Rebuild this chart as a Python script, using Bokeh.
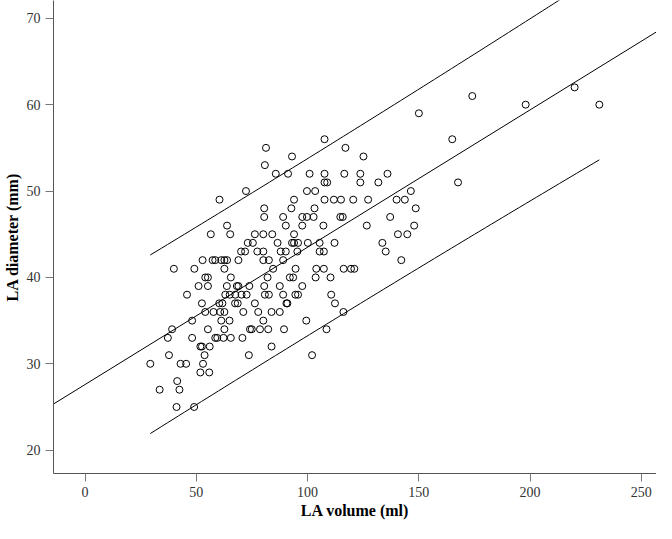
import numpy as np
from bokeh.plotting import figure
from bokeh.models import Range1d, FixedTicker
from bokeh.embed import file_html
from bokeh.resources import INLINE

# LA volume (ml) and LA diameter (mm), one entry per patient
volume_ml = [
    107.6, 165.0,
    81.3, 117.0,
    93.0, 125.1,
    80.8,
    85.7, 91.2, 100.9, 107.6, 116.5, 123.7, 135.9,
    107.6, 108.8, 123.7, 131.8, 167.6,
    72.3, 99.7, 103.4, 146.4,
    60.4, 93.9, 107.6, 111.8, 115.0, 120.5, 127.2, 140.0, 143.7,
    80.5, 92.7, 103.1, 148.6,
    80.5, 89.0, 97.6, 99.7, 102.7, 114.7, 115.8, 137.1,
    63.8, 90.2, 97.6, 107.1, 126.6, 147.9,
    56.5, 65.2, 76.3, 80.1, 84.1, 93.9, 140.6, 144.8,
    73.1, 75.4, 86.5, 93.0, 93.9, 95.7, 100.1, 105.4, 112.1, 133.6,
    70.1, 71.9, 77.4, 80.1, 87.9, 90.2, 95.4, 105.4, 107.3, 135.1,
    52.8, 57.3, 58.5, 61.2, 62.6, 63.8, 68.9, 80.1, 82.6, 89.0, 142.1,
    39.9, 49.1, 62.6, 84.5, 94.6, 103.9, 107.3, 116.2, 119.5, 121.0,
    54.0, 55.2, 65.5, 82.0, 92.0, 93.5, 103.6, 110.3,
    51.0, 55.2, 63.7, 68.2, 68.9, 73.8, 80.5, 87.5, 97.6,
    45.8, 63.0, 65.0, 67.5, 70.3, 72.6, 80.8, 82.6, 89.0, 94.5, 95.7, 110.6,
    52.5, 60.3, 61.7, 67.4, 68.6, 76.3, 90.5, 90.9, 112.3,
    54.0, 57.7, 60.7, 62.6, 71.1, 77.8, 83.8, 87.5, 116.1,
    48.1, 61.2, 64.9, 80.1, 99.4,
    39.1, 55.2, 62.6, 74.1, 74.9, 78.6, 82.3, 89.4, 108.5,
    37.2, 48.1, 58.5, 59.4, 62.2, 65.5, 70.7,
    51.8, 52.5, 56.0, 83.8,
    37.7, 53.7, 73.6, 102.0,
    29.3, 42.9, 45.4, 53.0,
    51.8, 55.8,
    41.4,
    33.5, 42.4,
    41.1, 49.0,
    150.0, 174.0, 198.0, 220.0, 231.1,
]
diameter_mm = [
    56, 56,
    55, 55,
    54, 54,
    53,
    52, 52, 52, 52, 52, 52, 52,
    51, 51, 51, 51, 51,
    50, 50, 50, 50,
    49, 49, 49, 49, 49, 49, 49, 49, 49,
    48, 48, 48, 48,
    47, 47, 47, 47, 47, 47, 47, 47,
    46, 46, 46, 46, 46, 46,
    45, 45, 45, 45, 45, 45, 45, 45,
    44, 44, 44, 44, 44, 44, 44, 44, 44, 44,
    43, 43, 43, 43, 43, 43, 43, 43, 43, 43,
    42, 42, 42, 42, 42, 42, 42, 42, 42, 42, 42,
    41, 41, 41, 41, 41, 41, 41, 41, 41, 41,
    40, 40, 40, 40, 40, 40, 40, 40,
    39, 39, 39, 39, 39, 39, 39, 39, 39,
    38, 38, 38, 38, 38, 38, 38, 38, 38, 38, 38, 38,
    37, 37, 37, 37, 37, 37, 37, 37, 37,
    36, 36, 36, 36, 36, 36, 36, 36, 36,
    35, 35, 35, 35, 35,
    34, 34, 34, 34, 34, 34, 34, 34, 34,
    33, 33, 33, 33, 33, 33, 33,
    32, 32, 32, 32,
    31, 31, 31, 31,
    30, 30, 30, 30,
    29, 29,
    28,
    27, 27,
    25, 25,
    59, 61, 60, 62, 60,
]

x_ticks = [0, 50, 100, 150, 200, 250]
y_ticks = [20, 30, 40, 50, 60, 70]
x_title = "LA volume (ml)"
y_title = "LA diameter (mm)"

X_LO, X_HI = -14.2, 256.8
Y_LO, Y_HI = 17.3, 72.06

p = figure(width=656, height=523, output_backend="svg", toolbar_location=None,
           x_range=Range1d(X_LO, X_HI), y_range=Range1d(Y_LO, Y_HI),
           min_border_left=49, min_border_right=0, min_border_top=0,
           min_border_bottom=50)
p.outline_line_color = None
p.grid.visible = False
p.background_fill_color = "white"
p.border_fill_color = "white"

for ax, ticks, title, st in ((p.xaxis[0], x_ticks, x_title, 2), (p.yaxis[0], y_ticks, y_title, 3)):
    ax.ticker = FixedTicker(ticks=ticks)
    ax.axis_line_color = "#555555"
    ax.axis_line_width = 1
    ax.major_tick_line_color = "#777777"
    ax.major_tick_out = 8
    ax.major_tick_in = 0
    ax.minor_tick_line_color = None
    ax.major_label_text_font = "Liberation Serif"
    ax.major_label_text_font_size = "14px"
    ax.major_label_text_color = "#333333"
    ax.major_label_standoff = 5
    ax.axis_label = title
    ax.axis_label_text_font = "Liberation Serif"
    ax.axis_label_text_font_style = "bold"
    ax.axis_label_text_font_size = "16px"
    ax.axis_label_text_color = "black"
    ax.axis_label_standoff = st

x = np.array(volume_ml, dtype=float)
y = np.array(diameter_mm, dtype=float)
n = len(x)
slope, intercept = np.polyfit(x, y, 1)
resid = y - (intercept + slope * x)
s = np.sqrt(np.sum(resid ** 2) / (n - 2))
sxx = np.sum((x - x.mean()) ** 2)
t = 1.972
xs = np.linspace(x.min(), x.max(), 80)
half = t * s * np.sqrt(1 + 1 / n + (xs - x.mean()) ** 2 / sxx)
fit = intercept + slope * xs

p.line([X_LO, X_HI], [intercept + slope * X_LO, intercept + slope * X_HI],
       line_color="black", line_width=1)
p.line(xs, fit + half, line_color="black", line_width=1)
p.line(xs, fit - half, line_color="black", line_width=1)

p.scatter(x, y, marker="circle", size=7, fill_color=None,
          line_color="black", line_width=1)

open("out.html", "w").write(file_html(p, INLINE))
